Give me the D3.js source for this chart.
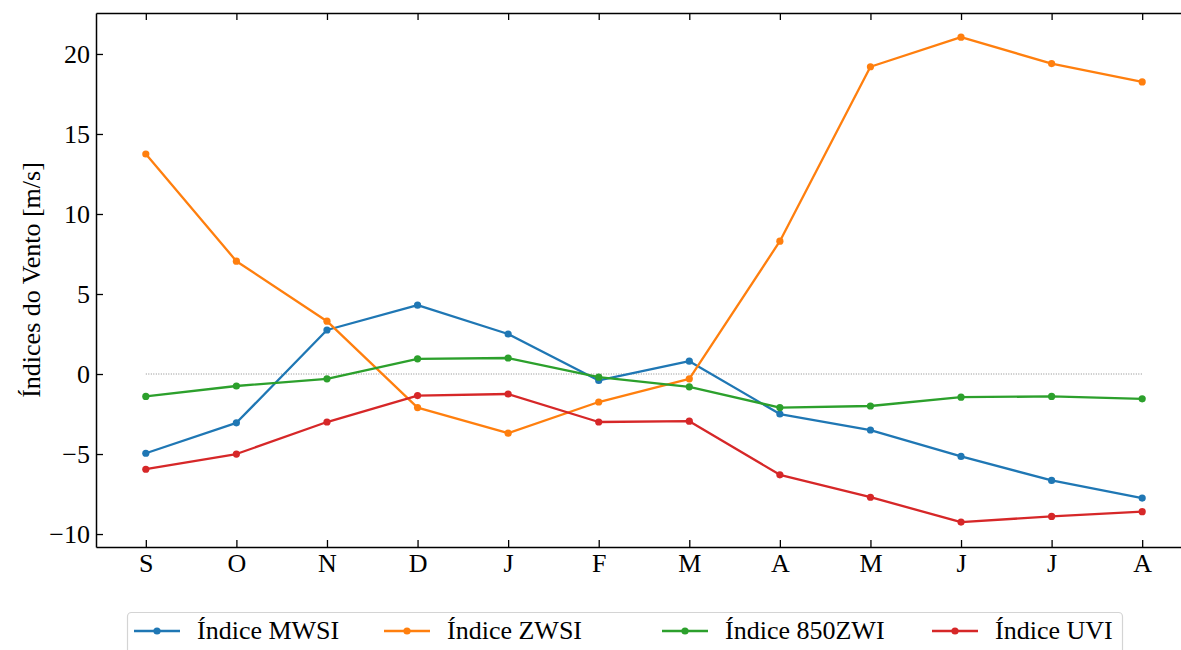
<!DOCTYPE html>
<html>
<head>
<meta charset="utf-8">
<script src="https://cdn.jsdelivr.net/npm/d3@7"></script>
<style>
  body { margin: 0; background: #fff; }
  svg text { font-family: "Liberation Serif", "Times New Roman", serif; }
</style>
</head>
<body>
<div id="chart"></div>
<script>
const months = ["S", "O", "N", "D", "J", "F", "M", "A", "M", "J", "J", "A"];
const mwsi = [-4.95, -3.05, 2.75, 4.3, 2.5, -0.4, 0.8, -2.5, -3.5, -5.15, -6.65, -7.75];
const zwsi = [13.75, 7.05, 3.3, -2.1, -3.7, -1.75, -0.3, 8.3, 19.2, 21.05, 19.4, 18.25];
const zwi850 = [-1.4, -0.75, -0.3, 0.95, 1.0, -0.2, -0.8, -2.1, -2.0, -1.45, -1.4, -1.55];
const uvi = [-5.95, -5.0, -3.0, -1.35, -1.25, -3.0, -2.95, -6.3, -7.7, -9.25, -8.9, -8.6];
const yTicks = [-10, -5, 0, 5, 10, 15, 20];

const series = [
  { name: "Índice MWSI", values: mwsi, color: "#1f77b4" },
  { name: "Índice ZWSI", values: zwsi, color: "#ff7f0e" },
  { name: "Índice 850ZWI", values: zwi850, color: "#2ca02c" },
  { name: "Índice UVI", values: uvi, color: "#d62728" },
];

const width = 1181;
const height = 650;
const margin = { top: 13, right: -11, bottom: 103, left: 96 };

const svg = d3.select("#chart")
  .append("svg")
  .attr("width", width)
  .attr("height", height);

const xScale = d3.scaleLinear()
  .domain([-0.55, months.length - 1 + 0.55])
  .range([margin.left, width - margin.right]);

const yScale = d3.scaleLinear()
  .domain([-10.81, 22.56])
  .range([height - margin.bottom, margin.top]);

// zero reference line
svg.append("line")
  .attr("x1", xScale(0))
  .attr("x2", xScale(months.length - 1))
  .attr("y1", yScale(0))
  .attr("y2", yScale(0))
  .attr("stroke", "#888")
  .attr("stroke-width", 1)
  .attr("stroke-dasharray", "1,1.5");

// axes (ticks pointing in)
const xAxis = svg.append("g")
  .attr("transform", `translate(0, ${height - margin.bottom})`)
  .call(d3.axisBottom(xScale)
    .tickValues(d3.range(months.length))
    .tickFormat((i) => months[i])
    .tickSizeInner(-7)
    .tickSizeOuter(0)
    .tickPadding(7));

const xAxisTop = svg.append("g")
  .attr("transform", `translate(0, ${margin.top})`)
  .call(d3.axisTop(xScale)
    .tickValues(d3.range(months.length))
    .tickFormat("")
    .tickSizeInner(-7)
    .tickSizeOuter(0));

const yAxis = svg.append("g")
  .attr("transform", `translate(${margin.left}, 0)`)
  .call(d3.axisLeft(yScale)
    .tickValues(yTicks)
    .tickSizeInner(-7)
    .tickSizeOuter(0)
    .tickPadding(6));

[xAxis, xAxisTop, yAxis].forEach(function (g) {
  g.select(".domain").attr("stroke", "#000").attr("stroke-width", 1.5);
  g.selectAll(".tick line").attr("stroke", "#000").attr("stroke-width", 1.3);
  g.selectAll(".tick text").attr("fill", "#000").style("font-size", "26px");
});

// lines and markers
const line = d3.line()
  .x((d, i) => xScale(i))
  .y((d) => yScale(d));

series.forEach(function (s) {
  svg.append("path")
    .datum(s.values)
    .attr("d", line)
    .attr("fill", "none")
    .attr("stroke", s.color)
    .attr("stroke-width", 2.3)
    .attr("stroke-linejoin", "round");

  svg.selectAll(null)
    .data(s.values)
    .enter()
    .append("circle")
    .attr("cx", (d, i) => xScale(i))
    .attr("cy", (d) => yScale(d))
    .attr("r", 3.6)
    .attr("fill", s.color);
});

// y label
svg.append("text")
  .attr("transform", `translate(40, ${(margin.top + height - margin.bottom) / 2}) rotate(-90)`)
  .attr("text-anchor", "middle")
  .style("font-size", "26px")
  .attr("fill", "#000")
  .text("Índices do Vento [m/s]");

// legend
const legend = svg.append("g");
legend.append("rect")
  .attr("x", 127.5)
  .attr("y", 612.5)
  .attr("width", 995)
  .attr("height", 80)
  .attr("rx", 4)
  .attr("fill", "#fff")
  .attr("stroke", "#d4d4d4")
  .attr("stroke-width", 1.2);

const legendCols = [134, 384, 662, 932];
series.forEach(function (s, i) {
  const x0 = legendCols[i];
  const g = legend.append("g").attr("transform", `translate(${x0}, 631)`);
  g.append("line")
    .attr("x1", 0).attr("x2", 46)
    .attr("stroke", s.color)
    .attr("stroke-width", 2.3);
  g.append("circle")
    .attr("cx", 23)
    .attr("r", 3.6)
    .attr("fill", s.color);
  g.append("text")
    .attr("x", 63)
    .attr("y", 8)
    .style("font-size", "26px")
    .attr("fill", "#000")
    .text(s.name);
});
</script>
</body>
</html>
